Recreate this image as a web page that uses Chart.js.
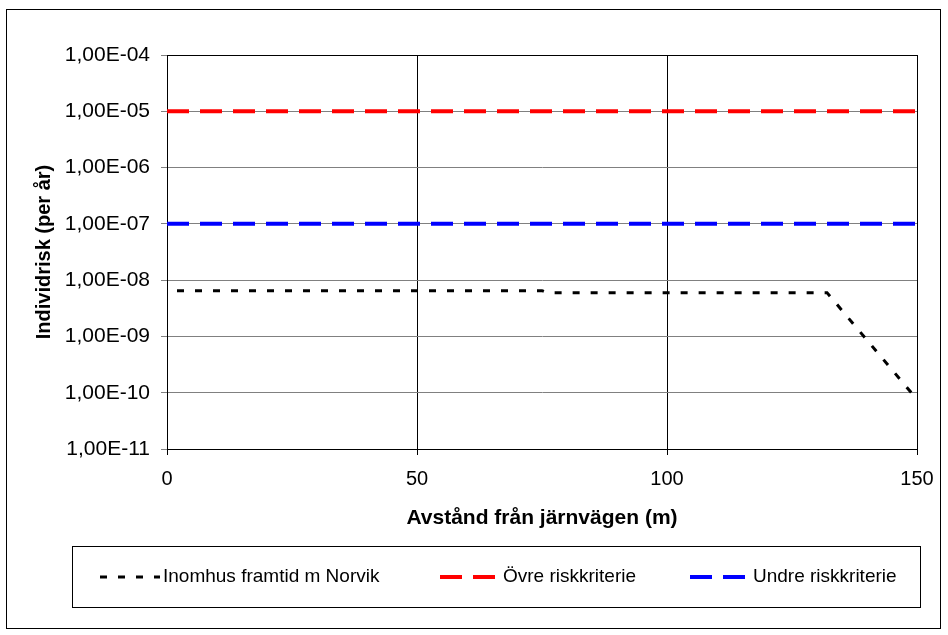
<!DOCTYPE html>
<html>
<head>
<meta charset="utf-8">
<script src="https://cdn.jsdelivr.net/npm/chart.js@4"></script>
<style>
  body { margin: 0; background: #fff; }
  canvas { display: block; }
</style>
</head>
<body>
<canvas id="riskChart" width="948" height="635"></canvas>
<script>
// data
const xInomhus = [2, 75, 76, 132, 150];
const yInomhus = [6.5e-9, 6.5e-9, 6.0e-9, 6.0e-9, 7.6e-11];
const xKriterie = [0, 150];
const yOvre = [1e-5, 1e-5];
const yUndre = [1e-7, 1e-7];
const yTicks = [1e-11, 1e-10, 1e-9, 1e-8, 1e-7, 1e-6, 1e-5, 1e-4];
const xTicks = [0, 50, 100, 150];
const seriesNames = ['Inomhus framtid m Norvik', 'Övre riskkriterie', 'Undre riskkriterie'];

function pts(xs, ys) {
    return xs.map((x, i) => ({ x: x, y: ys[i] }));
}

function fmtExp(v) {
    const e = Math.round(Math.log10(v));
    const m = (v / Math.pow(10, e)).toFixed(2).replace('.', ',');
    return m + 'E' + (e < 0 ? '-' : '+') + String(Math.abs(e)).padStart(2, '0');
}

const FONT = "'Liberation Sans', Arial, sans-serif";

// frame, plot border and the boxed legend
const framePlugin = {
    id: 'frame',
    beforeDatasetsDraw(chart) {
        const { ctx, chartArea: a } = chart;
        ctx.save();
        ctx.strokeStyle = '#000';
        ctx.lineWidth = 1;
        ctx.strokeRect(Math.round(a.left) + 0.5, Math.round(a.top) + 0.5,
            Math.round(a.right - a.left), Math.round(a.bottom - a.top));
        ctx.restore();
    },
    afterDraw(chart) {
        const ctx = chart.ctx;
        ctx.save();
        ctx.strokeStyle = '#000';
        ctx.lineWidth = 1;
        ctx.strokeRect(6.5, 9.5, 934, 619);
        ctx.strokeRect(72.5, 546.5, 848, 61);

        const sampleX = [100, 440, 690];
        const yMid = 577;
        ctx.font = '19px ' + FONT;
        ctx.textBaseline = 'middle';
        ctx.fillStyle = '#000';
        chart.data.datasets.forEach((ds, i) => {
            ctx.beginPath();
            ctx.strokeStyle = ds.borderColor;
            ctx.lineWidth = ds.borderWidth;
            ctx.setLineDash(ds.borderDash);
            ctx.moveTo(sampleX[i], yMid);
            ctx.lineTo(sampleX[i] + 60, yMid);
            ctx.stroke();
            ctx.setLineDash([]);
            ctx.fillText(ds.label, sampleX[i] + 63, yMid);
        });
        ctx.restore();
    }
};

const ctx = document.getElementById('riskChart').getContext('2d');
new Chart(ctx, {
    type: 'line',
    data: {
        datasets: [
            {
                label: seriesNames[0],
                data: pts(xInomhus, yInomhus),
                borderColor: '#000000',
                borderWidth: 3,
                borderDash: [7, 11]
            },
            {
                label: seriesNames[1],
                data: pts(xKriterie, yOvre),
                borderColor: '#ff0000',
                borderWidth: 4,
                borderDash: [22, 11]
            },
            {
                label: seriesNames[2],
                data: pts(xKriterie, yUndre),
                borderColor: '#0000ff',
                borderWidth: 4,
                borderDash: [22, 11]
            }
        ]
    },
    options: {
        responsive: false,
        animation: false,
        devicePixelRatio: 1,
        layout: { padding: { top: 55, right: 31, bottom: 0, left: 0 } },
        elements: {
            point: { radius: 0 },
            line: { tension: 0, fill: false, borderCapStyle: 'butt' }
        },
        plugins: {
            legend: { display: false },
            tooltip: { enabled: false }
        },
        scales: {
            x: {
                type: 'linear',
                min: 0,
                max: 150,
                afterBuildTicks: s => { s.ticks = xTicks.map(v => ({ value: v })); },
                afterFit: s => { s.height = 186; },
                grid: { color: '#000', lineWidth: 1, tickLength: 6 },
                border: { color: '#000', width: 1 },
                ticks: {
                    color: '#000',
                    padding: 12,
                    maxRotation: 0,
                    font: { family: FONT, size: 20 }
                },
                title: {
                    display: true,
                    text: 'Avstånd från järnvägen (m)',
                    color: '#000',
                    font: { family: FONT, size: 21, weight: 'bold' },
                    padding: { top: 0, bottom: 104 }
                }
            },
            y: {
                type: 'logarithmic',
                min: 1e-11,
                max: 1e-4,
                afterBuildTicks: s => { s.ticks = yTicks.map(v => ({ value: v })); },
                afterFit: s => { s.width = 167; },
                grid: { color: '#808080', lineWidth: 1, tickLength: 6 },
                border: { color: '#000', width: 1 },
                ticks: {
                    color: '#000',
                    padding: 11,
                    font: { family: FONT, size: 21 },
                    callback: v => fmtExp(v)
                },
                title: {
                    display: true,
                    text: 'Individrisk (per år)',
                    color: '#000',
                    font: { family: FONT, size: 20, weight: 'bold' },
                    padding: { top: 32, bottom: 0 }
                }
            }
        }
    },
    plugins: [framePlugin]
});
</script>
</body>
</html>
